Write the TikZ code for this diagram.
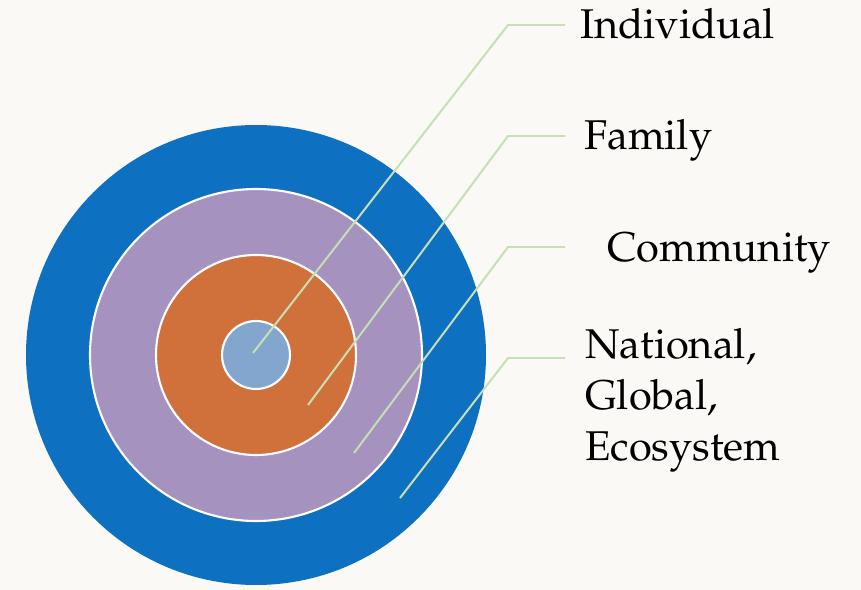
\documentclass[tikz,border=0pt]{standalone}
\usepackage[T1]{fontenc}
\usepackage{mathpazo}
\usepackage{xcolor}
\usepackage{tikz}

\definecolor{paper}{RGB}{251,249,246}
\definecolor{ringblue}{RGB}{14,112,192}
\definecolor{ringpurple}{RGB}{165,146,190}
\definecolor{ringorange}{RGB}{208,113,60}
\definecolor{ringlight}{RGB}{131,166,206}
\definecolor{leader}{RGB}{197,224,180}

\tikzset{
  ring/.style={draw=white, line width=1.8pt},
  leaderline/.style={draw=leader, line width=1.7pt},
  label/.style={font=\fontsize{35.5}{43.5}\selectfont, inner sep=0pt, anchor=base west}
}

\begin{document}
\begin{tikzpicture}[x=0.03cm, y=-0.03cm]
    % background
    \fill[paper] (0,0) rectangle (861,590);
    \useasboundingbox (0,0) rectangle (861,590);

    % the rings, from outside in
    \fill[ringblue] (256,355) circle[radius=230];
    \filldraw[ring, fill=ringpurple] (256,355) circle[radius=166];
    \filldraw[ring, fill=ringorange] (256,355) circle[radius=100];
    \filldraw[ring, fill=ringlight] (256,355) circle[radius=34];

    % labels
    \node[label] (indiv) at (580,39) {Individual};
    \node[label] (fam) at (584,150) {Family};
    \node[label] (comm) at (607,261) {Community};
    \node[label, align=left] (nat) at (585,460) {National,\\Global,\\Ecosystem};

    % leader lines
    \draw[leaderline] (253,353) -- (508,25) -- (565,25);
    \draw[leaderline] (308,405) -- (508,136) -- (565,136);
    \draw[leaderline] (354,453) -- (508,247) -- (565,247);
    \draw[leaderline] (400,498) -- (508,358) -- (565,358);
\end{tikzpicture}
\end{document}
